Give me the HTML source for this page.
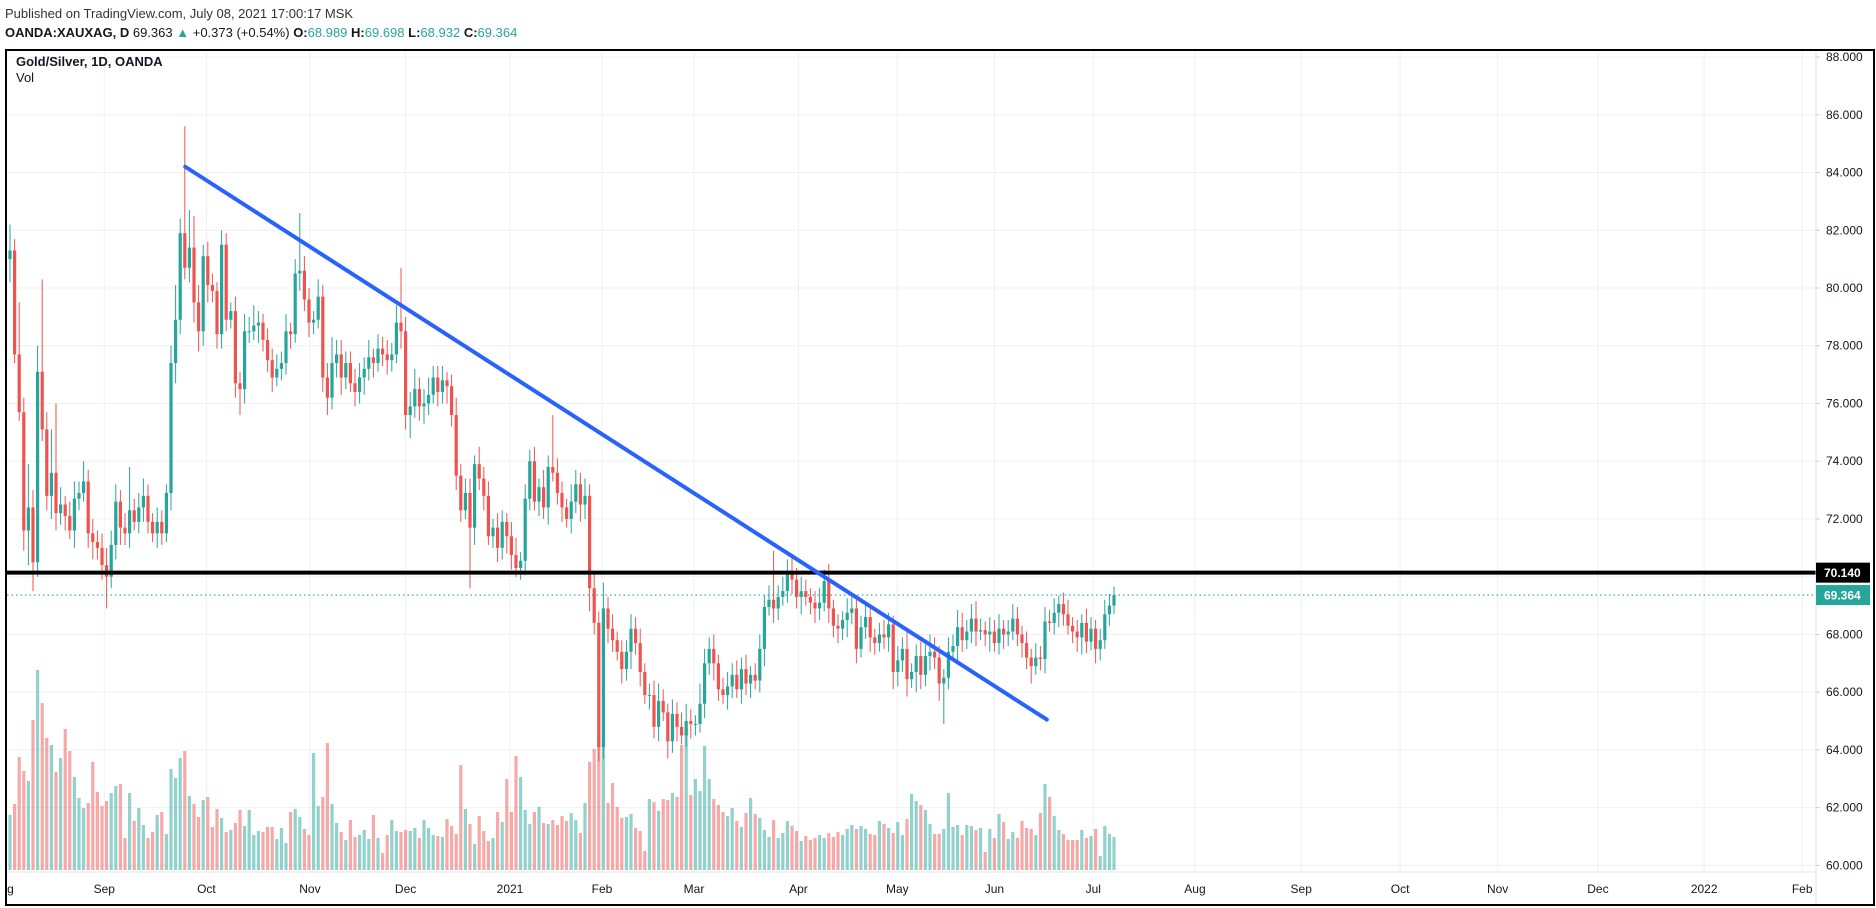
<!DOCTYPE html>
<html><head><meta charset="utf-8"><style>
html,body{margin:0;padding:0;background:#fff;width:1876px;height:908px;overflow:hidden}
.hdr{position:absolute;left:5px;font-family:"Liberation Sans",sans-serif;font-size:13px;color:#131722;white-space:nowrap}
svg{position:absolute;left:0;top:0}
</style></head><body>
<div class="hdr" style="top:6px;color:#333">Published on TradingView.com, July 08, 2021 17:00:17 MSK</div>
<div class="hdr" style="top:25px"><b>OANDA:XAUXAG, D</b> 69.363 <span style="color:#26a69a">▲</span> +0.373 (+0.54%) <b>O:</b><span style="color:#26a69a">68.989</span> <b>H:</b><span style="color:#26a69a">69.698</span> <b>L:</b><span style="color:#26a69a">68.932</span> <b>C:</b><span style="color:#26a69a">69.364</span></div>
<svg id="chart" width="1876" height="908" style="top:0"></svg>
<script>
const closes=[81.3,77.7,75.7,71.6,72.4,70.5,77.1,75.1,72.8,73.6,72.2,72.5,72.1,71.6,72.7,72.9,73.3,71.5,71.2,71.0,
70.4,70.0,71.1,72.6,71.7,71.5,72.3,71.9,72.4,72.8,71.9,71.5,71.9,71.5,72.9,77.4,78.9,81.9,80.7,81.4,
79.5,78.5,81.1,80.1,79.9,78.4,81.5,78.9,79.2,76.7,76.5,78.5,78.5,78.7,78.8,78.2,77.5,76.9,77.2,77.4,
78.5,78.4,80.5,80.6,79.6,78.8,78.9,79.7,76.9,76.2,77.4,77.7,76.9,77.4,76.7,76.4,76.9,77.2,77.6,77.4,
77.9,77.7,77.5,77.7,78.8,78.5,75.6,75.9,76.5,75.9,76.0,76.3,76.9,76.4,76.8,76.6,75.6,73.5,72.3,72.9,
71.7,73.9,73.4,72.8,71.4,71.7,71.0,71.9,71.4,70.75,70.3,70.55,72.7,74.0,72.6,73.1,72.4,73.8,73.6,72.9,
72.4,72.0,72.6,73.2,72.5,72.8,69.6,68.4,64.1,68.9,68.2,67.8,67.4,66.8,67.4,68.2,67.7,66.7,65.9,65.9,
64.8,65.7,65.3,64.3,65.25,64.8,64.5,65.0,64.9,64.9,65.6,67.0,67.5,67.0,66.1,65.9,66.2,66.6,66.1,66.8,
66.3,66.6,66.4,67.5,68.95,69.2,68.9,69.3,69.5,70.2,69.9,69.3,69.5,69.3,69.1,68.9,69.1,69.85,68.9,68.3,
68.2,68.5,68.75,68.9,67.5,68.25,68.6,67.9,67.7,68.0,67.9,68.35,66.7,67.1,67.5,66.45,66.7,67.25,66.6,67.25,
67.4,67.2,66.3,66.5,67.4,67.6,68.25,67.8,68.1,68.55,68.1,68.15,68.0,68.1,67.7,68.2,68.0,68.1,68.55,68.0,
67.7,67.2,66.9,67.2,67.15,68.45,68.4,68.75,69.05,68.7,68.3,68.1,67.9,68.4,67.75,68.2,67.5,67.8,68.7,69.0,69.36];
const upWick=[.9,.4,1.8,.5,1.5,.6,.9,3.2,.6,1.5,2.4,.6,.3,.5,.6,.4,.7,.4,.5,.4,
.5,.6,.5,.6,.4,.5,1.5,.4,.5,.6,.4,.3,.5,.4,.3,.6,1.2,.5,3.7,1.3,
1.1,.6,.4,.5,.4,.3,.5,.4,.3,.5,.4,.6,.5,.7,.4,.3,.4,.4,.5,.4,
.6,.3,.5,2.0,.5,.4,.3,.6,.4,.5,.9,.5,.5,.4,.4,.5,.5,.4,.6,.3,
.5,.4,.5,.4,.6,1.9,.5,.5,.7,.4,.5,.6,.4,.4,.5,.3,.4,.6,.4,.5,
.5,.3,.6,.4,.5,.3,.5,.4,.3,.5,.6,.3,.5,.4,.5,.3,.6,.4,1.8,.5,
.4,.3,.6,.5,.4,.6,.4,.5,.4,.9,.4,.5,.3,.4,.4,.5,.4,.5,.3,.4,
.5,.6,.4,.3,.5,.4,.5,.6,.4,.3,.7,.5,.4,.5,.3,.4,.5,.4,.5,.4,
.5,.3,.4,.5,.4,.5,1.7,.4,.5,.4,.6,.4,.5,.4,.3,.4,.5,.4,.6,.3,
.4,.3,.5,.4,.3,.4,.5,.4,.3,.4,.5,.4,.3,.5,.4,.6,.3,.4,.5,.4,
.6,.5,.4,.3,.5,.4,.6,.5,.4,.5,.6,.4,.3,.5,.4,.5,.3,.4,.5,.4,
.3,.4,.3,.5,.4,.5,.4,.5,.3,.4,.5,.3,.4,.3,.5,.4,.3,.4,.5,.4,.3];
const downWick=[.8,.3,.3,.7,1.2,1.0,.5,.4,.5,.8,.6,.4,.5,.3,.6,.4,.3,.5,.6,.4,
.5,1.1,.4,.5,.6,.4,.5,.3,.4,.5,.4,.3,.5,.4,.3,.6,.7,.5,.4,.5,
.7,.7,.5,.6,.4,.5,.5,.4,.3,.5,.9,.5,.4,.3,.6,.4,.4,.5,.3,.4,
.4,.5,.3,.6,.4,.5,.4,.3,.5,.6,.4,.5,.6,.4,.3,.5,.4,.6,.4,.5,
.3,.4,.5,.4,.3,.6,.5,.8,.4,.5,.6,.4,.3,.5,.4,.6,.4,.5,.4,.3,
2.1,.6,.4,.5,.3,.4,.5,.4,.6,.5,.3,.4,.5,.4,.3,.5,.4,.6,.3,.4,
.5,.3,.5,.4,.6,.5,.8,.4,.5,.4,.5,.4,.3,.5,.4,.6,.4,.5,.3,.5,
.4,.5,.3,.6,.4,.5,.3,.4,.5,.4,.3,.5,.4,.6,.4,.3,.5,.4,.3,.5,
.4,.5,.3,.4,.6,.3,.5,.4,.3,.4,.5,.4,.6,.3,.4,.5,.4,.3,.5,.4,
.5,.4,.6,.4,.5,.3,.4,.5,.4,.3,.4,.5,.6,.5,.4,.6,.3,.7,.5,.4,
.5,.4,.6,1.4,.4,.3,.5,.4,.3,.4,.5,.3,.4,.6,.3,.4,.5,.4,.3,.4,
.5,.4,.6,.3,.4,.5,.3,.4,.5,.4,.3,.4,.5,.6,.4,.3,.5,.4,.3,.4,.3];
const volumes=[55,66,113,99,89,150,200,167,132,125,98,112,141,119,93,72,62,67,108,78,
64,69,77,84,86,32,77,49,62,45,32,38,55,58,36,101,92,112,119,74,
66,53,70,73,43,61,52,38,40,47,60,44,60,35,39,38,43,43,31,42,
27,58,61,53,41,35,117,64,73,127,66,47,38,30,50,33,35,40,31,55,
32,17,35,50,39,38,40,39,42,32,50,42,35,34,33,51,44,36,105,61,
46,26,54,39,29,32,58,48,91,58,114,93,60,46,58,63,47,46,50,45,
54,49,57,50,37,67,108,121,130,126,67,87,63,52,53,56,42,39,19,71,
68,59,71,70,77,73,125,142,75,91,79,124,91,71,65,58,54,62,49,43,
57,72,56,52,40,33,50,32,37,49,44,39,29,34,30,32,35,32,37,33,
38,35,41,45,41,44,41,36,35,49,46,42,37,48,35,51,76,69,65,60,
46,36,36,41,77,43,45,35,45,44,40,42,18,41,32,56,48,31,38,32,
49,42,41,35,57,86,73,54,40,36,30,30,30,40,32,34,41,14,44,36,33];
const priceTicks=[60,62,64,66,68,70,72,74,76,78,80,82,84,86,88];
const monthLabels=["Aug","Sep","Oct","Nov","Dec","2021","Feb","Mar","Apr","May","Jun","Jul","Aug","Sep","Oct","Nov","Dec","2022","Feb"];
const monthBarIdx=[-1.5,20.5,42.7,65.2,86,108.7,128.7,148.7,171.4,192.9,214,235.5,257.6,280.7,302.2,323.4,345.2,368.3,389.6];
const levelPrice=70.14, lastPrice=69.364;
const trendStart=[38.1,84.2], trendEnd=[225.4,65.05];

const NS="http://www.w3.org/2000/svg";
const svg=document.getElementById('chart');
const X0=10, STEP=4.6, PLOT_R=1816, VOL_BASE=870, VOL_SCALE=1.0;
const xOf=i=>X0+STEP*i;
const yOf=p=>576.7+(70-p)*28.87;
const vh=v=>v*VOL_SCALE;
function mk(tag,attrs){const e=document.createElementNS(NS,tag);for(const k in attrs)e.setAttribute(k,attrs[k]);svg.appendChild(e);return e;}

// frame
let fr=mk('rect',{x:6,y:50,width:1868,height:855,fill:'#fff',stroke:'#000','stroke-width':2});


// horizontal grid
priceTicks.forEach(p=>{
  const g=mk('line',{x1:7,x2:PLOT_R,y1:yOf(p),y2:yOf(p),stroke:'#eef0f3','stroke-width':1});
  
  
});
// vertical grid
monthBarIdx.forEach((b,k)=>{
  if(k===0)return;
  const x=xOf(b);
  const g=mk('line',{x1:x,x2:x,y1:51,y2:872,stroke:'#eef0f3','stroke-width':1});
  
  
});
// volumes
closes.forEach((c,i)=>{
  const o=i===0?81.0:closes[i-1];
  const v=volumes[i]; if(v===undefined)return;
  const r=mk('rect',{x:xOf(i)-1.6,y:VOL_BASE-vh(v),width:3.2,height:vh(v),fill:c>=o?'#26a69a':'#ef5350','fill-opacity':0.5});
  
  
});
// candles
closes.forEach((c,i)=>{
  const o=i===0?81.0:closes[i-1];
  const col=c>=o?'#26a69a':'#ef5350';
  const hi=Math.max(o,c)+upWick[i], lo=Math.min(o,c)-downWick[i];
  const x=xOf(i);
  const w=mk('line',{x1:x,x2:x,y1:yOf(hi),y2:yOf(lo),stroke:col,'stroke-width':1});
  
  
  const top=yOf(Math.max(o,c)), h=Math.max(1,yOf(Math.min(o,c))-top);
  const b=mk('rect',{x:x-1.6,y:top,width:3.2,height:h,fill:col});
  
  
});
// last price dotted line
let dl=mk('line',{x1:7,x2:PLOT_R,y1:yOf(lastPrice),y2:yOf(lastPrice),stroke:'#26a69a','stroke-width':1.2,'stroke-dasharray':'1.5 3'});


// horizontal level
let hl=mk('line',{x1:7,x2:PLOT_R,y1:yOf(levelPrice),y2:yOf(levelPrice),stroke:'#000','stroke-width':4});


// trend line
let tl=mk('line',{x1:xOf(trendStart[0]),y1:yOf(trendStart[1]),x2:xOf(trendEnd[0]),y2:yOf(trendEnd[1]),stroke:'#2962ff','stroke-width':4,'stroke-linecap':'round'});


// axes separators
let ps=mk('line',{x1:PLOT_R,x2:PLOT_R,y1:51,y2:904,stroke:'#e0e3eb','stroke-width':1});


let ts=mk('line',{x1:7,x2:PLOT_R,y1:872,y2:872,stroke:'#e0e3eb','stroke-width':1});


// price labels
priceTicks.forEach(p=>{
  const tk=mk('line',{x1:PLOT_R,x2:PLOT_R+4,y1:yOf(p),y2:yOf(p),stroke:'#c8ccd4','stroke-width':1});
  
  
  const t=mk('text',{x:1826,y:yOf(p)+4,'font-family':'Liberation Sans, sans-serif','font-size':12,fill:'#131722'});
  t.textContent=p.toFixed(3);
  
  
});
// tags
function tag(p,bg,name){
  const y=yOf(p);
  const r=mk('rect',{x:PLOT_R,y:y-10,width:54,height:20,fill:bg});
  
  
  const t=mk('text',{x:1824,y:y+4.5,'font-family':'Liberation Sans, sans-serif','font-size':12,'font-weight':'bold',fill:'#fff'});
  t.textContent=p.toFixed(3);
  
  
}
tag(levelPrice,'#000','level-price-tag');
tag(lastPrice,'#26a69a','last-price-tag');
// month labels
monthLabels.forEach((m,k)=>{
  const t=mk('text',{x:xOf(monthBarIdx[k]),y:893,'text-anchor':'middle','font-family':'Liberation Sans, sans-serif','font-size':12,fill:'#131722'});
  t.textContent=m;
  
  
});
// left cover for clipped Aug
let cv=mk('rect',{x:0,y:50,width:5,height:856,fill:'#fff'});


let lb=mk('line',{x1:6,x2:6,y1:50,y2:905,stroke:'#000','stroke-width':2});


// legend
let lg=mk('text',{x:16,y:66,'font-family':'Liberation Sans, sans-serif','font-size':13,'font-weight':'bold',fill:'#131722'});
lg.textContent='Gold/Silver, 1D, OANDA';


let vl=mk('text',{x:16,y:82,'font-family':'Liberation Sans, sans-serif','font-size':13,fill:'#131722'});
vl.textContent='Vol';


</script>
</body></html>
